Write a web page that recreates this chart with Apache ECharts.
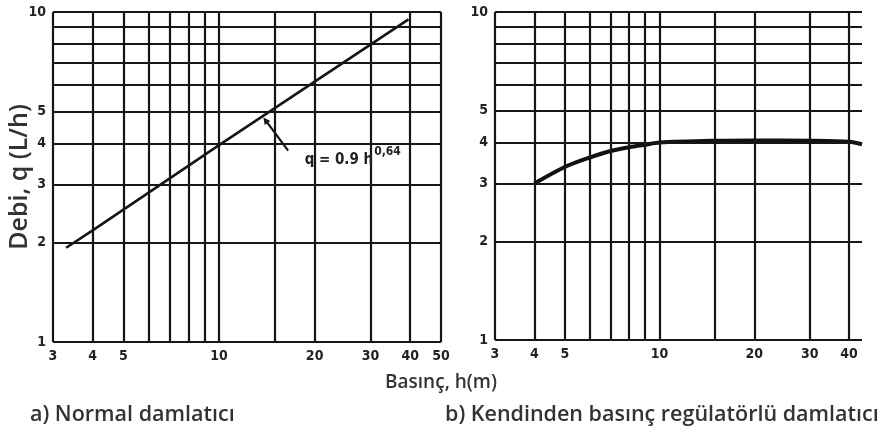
<!DOCTYPE html>
<html>
<head>
<meta charset="utf-8">
<script src="https://cdn.jsdelivr.net/npm/echarts@6/dist/echarts.min.js"></script>
<style>
html,body{margin:0;padding:0;background:#fff;}
#main{width:882px;height:440px;}
</style>
</head>
<body>
<div id="main"></div>
<script>
// a) normal emitter
var normalH = [3.3, 4, 10, 39.5];
var normalQ = [1.93, 2.18, 3.95, 9.5];
// b) pressure compensating emitter
var regH = [4, 5, 6, 7, 8, 9, 10, 15, 20, 30, 40, 44];
var regQ = [3.0, 3.37, 3.6, 3.77, 3.87, 3.94, 4.0, 4.05, 4.06, 4.05, 4.02, 3.95];

// grid of the log paper
var leftGridX = [3, 4, 5, 6, 7, 8, 9, 10, 15, 20, 30, 40, 50];
var rightGridX = [3, 4, 5, 6, 7, 8, 9, 10, 15, 20, 30, 40];
var gridY = [1, 2, 3, 4, 5, 6, 7, 8, 9, 10];
var leftTickX = [3, 4, 5, 10, 20, 30, 40, 50];
var rightTickX = [3, 4, 5, 10, 20, 30, 40];
var tickY = [1, 2, 3, 4, 5, 10];

var tickFont = 'DejaVu Sans Condensed';
var textFont = 'Open Sans';
var ink = '#161616';

function pairs(xs, ys) {
    var out = [];
    for (var i = 0; i < xs.length; i++) out.push([xs[i], ys[i]]);
    return out;
}

function gridLines(key, values, ticks) {
    return values.map(function (v) {
        var item = {};
        item[key] = v;
        item.label = {show: ticks.indexOf(v) >= 0, formatter: String(v)};
        return item;
    });
}

function paper(xs, xticks) {
    return {
        symbol: 'none',
        silent: true,
        animation: false,
        lineStyle: {color: ink, width: 2.2, type: 'solid'},
        label: {
            position: 'start',
            distance: 7,
            color: '#222',
            fontFamily: tickFont,
            fontWeight: 'bold',
            fontSize: 14
        },
        emphasis: {disabled: true},
        data: gridLines('xAxis', xs, xticks).concat(gridLines('yAxis', gridY, tickY))
    };
}

function logAxis(idx, min, max, extra) {
    var a = {
        type: 'log',
        logBase: 10,
        gridIndex: idx,
        min: min,
        max: max,
        axisLine: {show: false},
        axisTick: {show: false},
        axisLabel: {show: false},
        splitLine: {show: false}
    };
    for (var k in extra) a[k] = extra[k];
    return a;
}

var captionStyle = {fontFamily: textFont, fontSize: 21.5, fontWeight: 600, color: '#333'};

var chart = echarts.init(document.getElementById('main'));
chart.setOption({
    animation: false,
    backgroundColor: '#fff',
    title: [
        {text: 'Basınç, h(m)', left: 'center', top: 368,
         textStyle: {fontFamily: textFont, fontSize: 19, fontWeight: 600, color: '#333'}},
        {text: 'a) Normal damlatıcı', left: 25, top: 399, textStyle: captionStyle},
        {text: 'b) Kendinden basınç regülatörlü damlatıcı', left: 440, top: 399, textStyle: captionStyle}
    ],
    grid: [
        {left: 53, right: 441, top: 12, bottom: 98, outerBoundsMode: 'none'},
        {left: 495, right: 20, top: 12, bottom: 100, outerBoundsMode: 'none'}
    ],
    xAxis: [
        logAxis(0, 3, 50),
        logAxis(1, 3, 44)
    ],
    yAxis: [
        logAxis(0, 1, 10, {
            name: 'Debi, q (L/h)',
            nameLocation: 'middle',
            nameGap: 21,
            nameTextStyle: {fontFamily: textFont, fontSize: 25, fontWeight: 600, color: '#333'}
        }),
        logAxis(1, 1, 10)
    ],
    series: [
        {
            type: 'line',
            xAxisIndex: 0,
            yAxisIndex: 0,
            data: pairs(normalH, normalQ),
            showSymbol: false,
            lineStyle: {color: ink, width: 2.6},
            markLine: paper(leftGridX, leftTickX)
        },
        {
            // leader line and formula of the normal emitter
            type: 'line',
            xAxisIndex: 0,
            yAxisIndex: 0,
            data: [],
            markLine: {
                silent: true,
                animation: false,
                symbol: ['triangle', 'none'],
                symbolSize: 7,
                lineStyle: {color: ink, width: 2.2, type: 'solid'},
                label: {show: false},
                data: [[{coord: [14, 4.7]}, {coord: [16.5, 3.8]}]]
            },
            markPoint: {
                silent: true,
                animation: false,
                symbol: 'circle',
                symbolSize: 0,
                data: [{coord: [18.6, 3.64]}],
                label: {
                    show: true,
                    position: 'right',
                    distance: 0,
                    formatter: '{b|q = 0.9 h}{s|0,64}',
                    rich: {
                        b: {fontFamily: tickFont, fontSize: 15, fontWeight: 'bold', color: '#222', padding: [6, 0, 0, 0]},
                        s: {fontFamily: tickFont, fontSize: 12, fontWeight: 'bold', color: '#222', verticalAlign: 'top', padding: [0, 0, 10, 1]}
                    }
                }
            }
        },
        {
            type: 'line',
            xAxisIndex: 1,
            yAxisIndex: 1,
            data: pairs(regH, regQ),
            showSymbol: false,
            smooth: 0.3,
            lineStyle: {color: '#111', width: 4},
            markLine: paper(rightGridX, rightTickX)
        }
    ]
});
</script>
</body>
</html>
